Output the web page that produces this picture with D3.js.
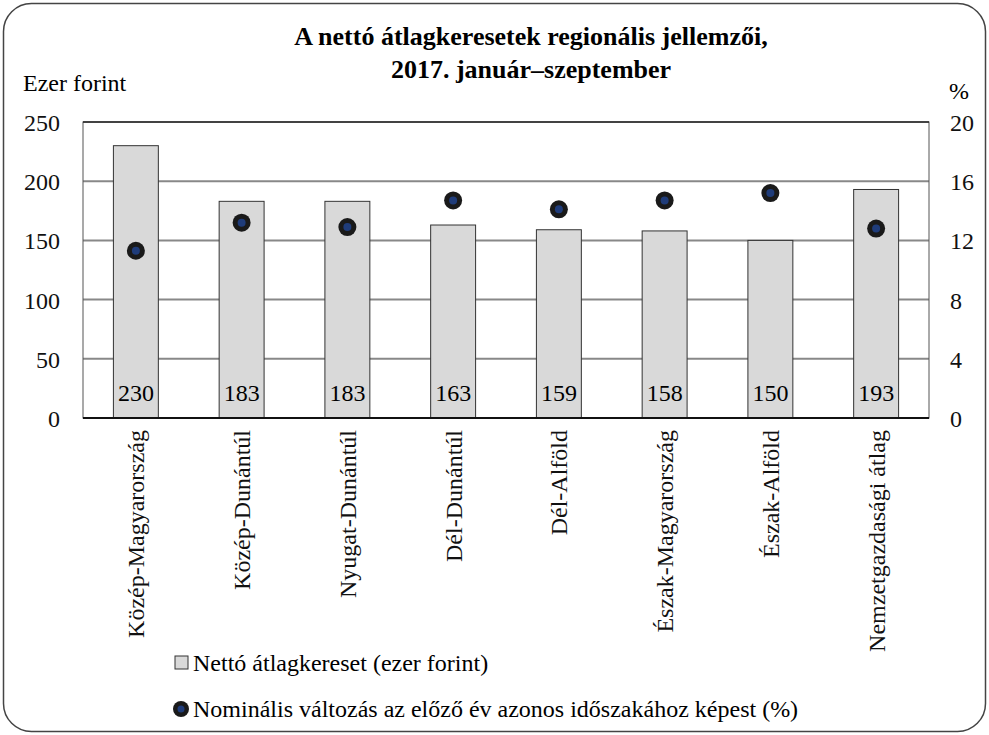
<!DOCTYPE html>
<html>
<head>
<meta charset="utf-8">
<script src="https://cdn.jsdelivr.net/npm/d3@7"></script>
<style>
  body { margin: 0; background: #fff; }
  #chart-container text { font-family: "Liberation Serif", serif !important; }
</style>
</head>
<body>
<div id="chart-container"></div>
<script>
// chart data
var regions = ["Közép-Magyarország", "Közép-Dunántúl", "Nyugat-Dunántúl", "Dél-Dunántúl",
  "Dél-Alföld", "Észak-Magyarország", "Észak-Alföld", "Nemzetgazdasági átlag"];
var earnings = [230, 183, 183, 163, 159, 158, 150, 193];
var changes = [11.3, 13.2, 12.9, 14.7, 14.1, 14.7, 15.2, 12.8];
var leftTicks = [0, 50, 100, 150, 200, 250];
var rightTicks = [0, 4, 8, 12, 16, 20];
var titleLines = ["A nettó átlagkeresetek regionális jellemzői,", "2017. január–szeptember"];
var legendLabels = ["Nettó átlagkereset (ezer forint)", "Nominális változás az előző év azonos időszakához képest (%)"];

var FONT = "Liberation Serif";

draw_chart();

function draw_chart() {
  var W = 989, H = 735;
  var margin = { top: 122, right: 60, bottom: 317, left: 83 };
  var width = W - margin.left - margin.right;
  var height = H - margin.top - margin.bottom;

  var svg = d3.select("#chart-container").append("svg")
    .attr("width", W).attr("height", H)
    .attr("font-family", FONT);

  // rounded frame
  svg.append("rect")
    .attr("x", 3.5).attr("y", 3.5)
    .attr("width", W - 7).attr("height", H - 7)
    .attr("rx", 28).attr("ry", 28)
    .attr("fill", "none").attr("stroke", "#444").attr("stroke-width", 1.5);

  // title
  svg.append("g").selectAll("text").data(titleLines).enter().append("text")
    .attr("x", 531).attr("y", function (d, i) { return 45 + i * 33; })
    .attr("text-anchor", "middle")
    .attr("font-family", FONT)
    .attr("font-size", 26).attr("font-weight", "bold")
    .text(function (d) { return d; });

  svg.append("text").attr("x", 23).attr("y", 91)
    .attr("font-family", FONT).attr("font-size", 24).text("Ezer forint");
  svg.append("text").attr("x", 949).attr("y", 99)
    .attr("font-family", FONT).attr("font-size", 24).text("%");

  var g = svg.append("g")
    .attr("transform", "translate(" + margin.left + "," + margin.top + ")");

  var x = d3.scaleBand().domain(regions).range([0, width]).paddingInner(0.575).paddingOuter(0.2875);
  var y = d3.scaleLinear().domain([0, 250]).range([height, 0]);
  var y2 = d3.scaleLinear().domain([0, 20]).range([height, 0]);

  // gridlines
  g.append("g").selectAll("line").data(leftTicks.slice(1, -1)).enter().append("line")
    .attr("x1", 0).attr("x2", width)
    .attr("y1", function (d) { return y(d); }).attr("y2", function (d) { return y(d); })
    .attr("stroke", "#888").attr("stroke-width", 2);

  // plot border
  g.append("rect").attr("width", width).attr("height", height)
    .attr("fill", "none").attr("stroke", "#555").attr("stroke-width", 1);
  g.append("line").attr("x1", 0).attr("x2", width).attr("y1", 0).attr("y2", 0)
    .attr("stroke", "#222").attr("stroke-width", 1.5);

  // bars
  g.append("g").selectAll("rect").data(earnings).enter().append("rect")
    .attr("x", function (d, i) { return x(regions[i]); })
    .attr("y", function (d) { return y(d); })
    .attr("width", x.bandwidth())
    .attr("height", function (d) { return height - y(d); })
    .attr("fill", "#d9d9d9").attr("stroke", "#333").attr("stroke-width", 1);

  // bar value labels
  g.append("g").selectAll("text").data(earnings).enter().append("text")
    .attr("x", function (d, i) { return x(regions[i]) + x.bandwidth() / 2; })
    .attr("y", height - 17)
    .attr("text-anchor", "middle")
    .attr("font-family", FONT).attr("font-size", 24)
    .text(function (d) { return d; });

  // x axis line
  g.append("line").attr("x1", 0).attr("x2", width).attr("y1", height).attr("y2", height)
    .attr("stroke", "#111").attr("stroke-width", 2);

  // dots
  var dots = g.append("g").selectAll("g").data(changes).enter().append("g")
    .attr("transform", function (d, i) {
      return "translate(" + (x(regions[i]) + x.bandwidth() / 2) + "," + y2(d) + ")";
    });
  dots.append("circle").attr("r", 9).attr("fill", "#1a1a1a");
  dots.append("circle").attr("r", 4).attr("fill", "#1f3c7a");

  // left axis
  var yAxis = g.append("g").call(d3.axisLeft(y).tickValues(leftTicks).tickSize(0).tickPadding(23));
  yAxis.select(".domain").remove();
  yAxis.attr("font-family", FONT).attr("font-size", 24);
  yAxis.selectAll("text").attr("fill", "#111").attr("dy", "0.35em");

  // right axis
  var yAxis2 = g.append("g").attr("transform", "translate(" + width + ",0)")
    .call(d3.axisRight(y2).tickValues(rightTicks).tickSize(0).tickPadding(21));
  yAxis2.select(".domain").remove();
  yAxis2.attr("font-family", FONT).attr("font-size", 24);
  yAxis2.selectAll("text").attr("fill", "#111").attr("dy", "0.35em");

  // x labels (rotated)
  var xAxis = g.append("g").attr("transform", "translate(0," + height + ")")
    .call(d3.axisBottom(x).tickSize(0));
  xAxis.select(".domain").remove();
  xAxis.attr("font-family", FONT).attr("font-size", 24);
  xAxis.selectAll("text")
    .attr("fill", "#111")
    .attr("transform", "rotate(-90)")
    .attr("text-anchor", "end")
    .attr("x", -12).attr("y", 0).attr("dy", "0.35em");

  // legend
  var leg = svg.append("g");
  leg.append("rect").attr("x", 175).attr("y", 656).attr("width", 13).attr("height", 13)
    .attr("fill", "#d9d9d9").attr("stroke", "#333").attr("stroke-width", 1);
  leg.append("text").attr("x", 193).attr("y", 671)
    .attr("font-family", FONT).attr("font-size", 24).text(legendLabels[0]);
  leg.append("circle").attr("cx", 181).attr("cy", 709).attr("r", 8).attr("fill", "#1a1a1a");
  leg.append("circle").attr("cx", 181).attr("cy", 709).attr("r", 3.5).attr("fill", "#1f3c7a");
  leg.append("text").attr("x", 193).attr("y", 717)
    .attr("font-family", FONT).attr("font-size", 24).text(legendLabels[1]);
}
</script>
</body>
</html>
